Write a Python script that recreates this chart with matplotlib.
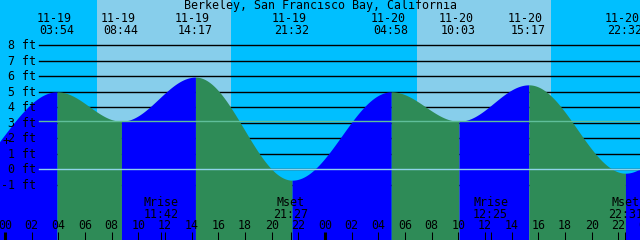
import numpy as np
import matplotlib
matplotlib.use("Agg")
import matplotlib.pyplot as plt
import matplotlib.transforms as mtrans

# ---------------- data ----------------
title = "Berkeley, San Francisco Bay, California"
tide_dates = ["11-19", "11-19", "11-19", "11-19", "11-20", "11-20", "11-20", "11-20"]
tide_times = ["03:54", "08:44", "14:17", "21:32", "04:58", "10:03", "15:17", "22:32"]
tide_heights = [5.0, 3.1, 5.95, -0.7, 5.0, 3.1, 5.45, -0.25]
# off-chart extremes needed to shape the curve at the edges
prev_date, prev_time, prev_height = "11-18", "19:50", -0.8
next_date, next_time, next_height = "11-21", "05:50", 5.0

sunrise_times = ["06:54", "06:55"]
sunset_times = ["16:57", "16:57"]
sun_dates = ["11-19", "11-20"]

moon_labels = ["Mrise", "Mset", "Mrise", "Mset"]
moon_dates = ["11-19", "11-19", "11-20", "11-20"]
moon_times = ["11:42", "21:27", "12:25", "22:31"]

ft_levels = [8, 7, 6, 5, 4, 3, 2, 1, 0, -1]
msl_level = 3.12
datum_level = 0.0
hour_ticks = list(range(0, 50, 2))
hour_labels = ["%02d" % (h % 24) for h in hour_ticks]

# ---------------- helpers ----------------
def to_hours(date, hm):
    day = int(date.split("-")[1]) - 19
    h, m = hm.split(":")
    return day * 24 + int(h) + int(m) / 60.0

W, H = 640, 240
fig = plt.figure(figsize=(W / 100, H / 100), dpi=100)
ax = fig.add_axes([0, 0, 1, 1])
ax.set_xlim(-0.375, 47.625)
ax.set_ylim(-4.561, 10.923)
ax.axis("off")
ax.set_facecolor("#00BFFF")
fig.patch.set_facecolor("#00BFFF")
ax.add_patch(plt.Rectangle((0, 0), 1, 1, transform=ax.transAxes,
                           color="#00BFFF", zorder=0))

NIGHT = "#00BFFF"
DAY = "#87CEEB"
RISE = "#0000FF"
FALL = "#2E8B57"
FONT = dict(family="DejaVu Sans Mono", size=8.4, color="black")

# x in data, y in figure pixels from top
bt = mtrans.blended_transform_factory(ax.transData, fig.transFigure)
def ypix(py):
    return 1 - py / H

# daylight bands
for d, sr, ss in zip(sun_dates, sunrise_times, sunset_times):
    ax.axvspan(to_hours(d, sr), to_hours(d, ss), color=DAY, zorder=1, lw=0)

# grid lines (behind the tide fill)
x0 = 39 / W
for lv in ft_levels:
    ax.axhline(lv, xmin=x0, xmax=1, color="black", lw=1.0, zorder=2)

# tide curve
ext_t = [to_hours(prev_date, prev_time)] + \
        [to_hours(d, t) for d, t in zip(tide_dates, tide_times)] + \
        [to_hours(next_date, next_time)]
ext_h = [prev_height] + tide_heights + [next_height]
ybot = ax.get_ylim()[0]
for i in range(len(ext_t) - 1):
    t1, t2 = ext_t[i], ext_t[i + 1]
    h1, h2 = ext_h[i], ext_h[i + 1]
    tt = np.linspace(t1, t2, 200)
    hh = h1 + (h2 - h1) * (1 - np.cos(np.pi * (tt - t1) / (t2 - t1))) / 2
    col = RISE if h2 > h1 else FALL
    ax.fill_between(tt, ybot, hh, color=col, lw=0, zorder=3)

# MSL and datum lines (on top)
ax.axhline(msl_level, xmin=x0, xmax=1, color="#5FBF9A", lw=1.0, zorder=4)
ax.axhline(datum_level, xmin=x0, xmax=1, color="#8FD3EA", lw=1.0, zorder=4)

# title
fig.text(0.5, ypix(9.5), title, ha="center", va="baseline", **FONT)

# tide extreme labels
for d, t in zip(tide_dates, tide_times):
    x = to_hours(d, t)
    ax.text(x - 0.25, ypix(22), d, transform=bt, ha="center", va="baseline", **FONT)
    ax.text(x - 0.05, ypix(34), t, transform=bt, ha="center", va="baseline", **FONT)

# y axis labels
for lv in ft_levels:
    py = 169.3 - 15.5 * lv
    fig.text(36 / W, ypix(py + 4), "%d ft" % lv, ha="right", va="baseline", **FONT)
fig.text(6 / W, ypix(145), "+", ha="center", va="baseline", **FONT)

# moon labels
for lab, d, t in zip(moon_labels, moon_dates, moon_times):
    x = to_hours(d, t)
    ax.text(x, ypix(206), lab, transform=bt, ha="center", va="baseline", **FONT)
    ax.text(x, ypix(218), t, transform=bt, ha="center", va="baseline", **FONT)
    ax.plot([x, x], [ypix(232), ypix(240)], transform=bt, color="black",
            lw=0.75, zorder=6, solid_capstyle="butt")

# hour ticks + labels
for h, lab in zip(hour_ticks, hour_labels):
    lw = 2.2 if h % 24 == 0 else 0.75
    ax.plot([h, h], [ypix(232), ypix(240)], transform=bt, color="black",
            lw=lw, zorder=6, solid_capstyle="butt")
    ax.text(h, ypix(229), lab, transform=bt, ha="center", va="baseline", **FONT)

fig.savefig("out.png", dpi=100, facecolor=NIGHT)
